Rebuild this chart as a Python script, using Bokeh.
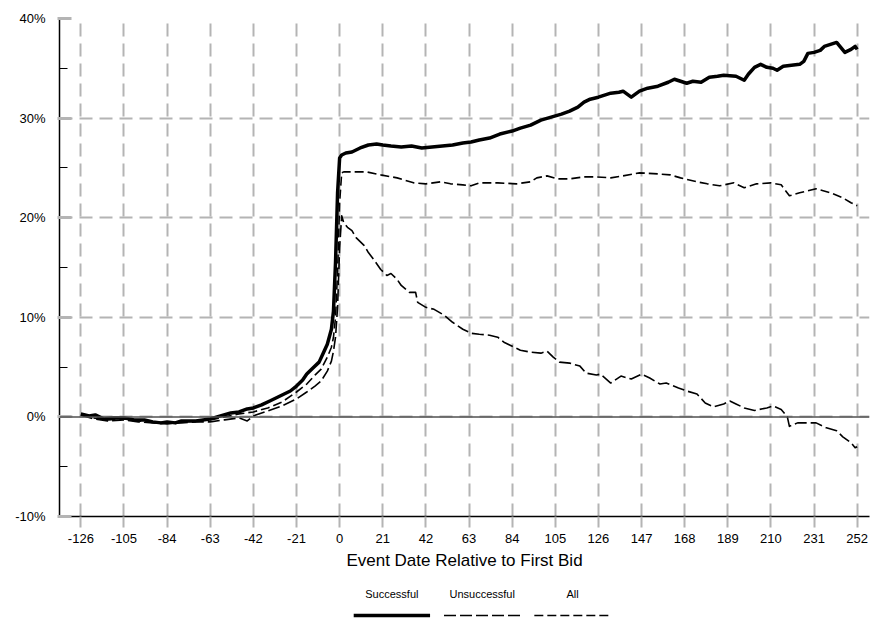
from bokeh.plotting import figure
from bokeh.models import Range1d, FixedTicker, PrintfTickFormatter, Span
from bokeh.layouts import column
from bokeh.embed import file_html
from bokeh.resources import INLINE
from bokeh.core.properties import value

# ---------------- data (cumulative abnormal return, %) ----------------
succ_days = [-126, -122, -119, -115, -110, -105, -100, -95, -91, -87, -84, -80, -77, -70, -63,
             -58, -53, -49, -45, -42, -38, -34, -30, -27, -24, -21, -18, -16, -13, -10,
             -8, -6, -4, -3, -2, -1, 0, 1, 3, 6, 10, 14, 18, 21, 25, 30, 35, 40, 45, 50,
             55, 60, 64, 68, 73, 78, 84, 88, 93, 98, 103, 108, 112, 116, 119, 122, 126, 132,
             136, 138, 142, 146, 150, 155, 160, 163, 166, 169, 172, 176, 180, 184, 187, 193,
             197, 199, 202, 205, 208, 211, 213, 216, 220, 224, 226, 228, 231, 234, 236, 239,
             242, 244, 246, 249, 251, 252]
succ_vals = [0.3, 0.1, 0.2, -0.2, -0.1, -0.1, -0.3, -0.3, -0.5, -0.6, -0.5, -0.6, -0.4, -0.4, -0.2,
             0.1, 0.4, 0.5, 0.8, 0.9, 1.2, 1.6, 2.0, 2.3, 2.6, 3.1, 3.7, 4.3, 4.9, 5.5,
             6.4, 7.3, 8.8, 10.6, 15.5, 22.5, 26.0, 26.3, 26.5, 26.6, 27.0, 27.3, 27.4, 27.3, 27.2, 27.1, 27.2, 27.0, 27.1, 27.2,
             27.3, 27.5, 27.6, 27.8, 28.0, 28.4, 28.7, 29.0, 29.3, 29.8, 30.1, 30.4, 30.7, 31.1, 31.6, 31.9, 32.1, 32.5,
             32.6, 32.7, 32.1, 32.7, 33.0, 33.2, 33.6, 33.9, 33.7, 33.5, 33.7, 33.6, 34.1, 34.2, 34.3, 34.2,
             33.8, 34.4, 35.1, 35.4, 35.1, 35.0, 34.8, 35.2, 35.3, 35.4, 35.7, 36.5, 36.6, 36.8, 37.2, 37.4,
             37.6, 37.1, 36.6, 36.9, 37.2, 36.9]

uns_days = [-126, -120, -113, -105, -98, -91, -84, -77, -70, -63, -56, -49, -45, -42, -35,
            -28, -21, -16, -12, -9, -6, -4, -3, -2, -1, 0, 1, 2, 4, 6,
            8, 12, 14, 17, 20, 23, 25, 28, 30, 34, 37, 38, 42, 46, 51,
            55, 60, 64, 68, 73, 77, 80, 83, 88, 93, 98, 101, 104, 107, 112,
            117, 120, 125, 127, 132, 137, 142, 147, 151, 156, 159, 165, 169, 174, 178,
            182, 187, 190, 193, 197, 202, 208, 211, 215, 218, 219, 223, 228, 232, 237,
            242, 245, 249, 251, 252]
uns_vals = [0.2, -0.2, -0.4, -0.3, -0.5, -0.6, -0.7, -0.6, -0.5, -0.5, -0.3, -0.1, -0.4, 0.1, 0.6,
            1.1, 1.8, 2.5, 3.1, 3.6, 4.6, 5.6, 6.6, 8.0, 11.0, 17.0, 20.2, 19.5, 19.0, 18.7,
            18.0, 17.2, 16.5, 15.7, 14.8, 14.2, 14.4, 13.8, 13.2, 12.5, 12.5, 11.5, 11.0, 10.8, 10.2,
            9.5, 8.8, 8.4, 8.3, 8.2, 8.0, 7.5, 7.2, 6.7, 6.5, 6.4, 6.6, 6.0, 5.5, 5.4,
            5.1, 4.4, 4.2, 4.3, 3.4, 4.1, 3.8, 4.3, 3.9, 3.3, 3.4, 2.9, 2.6, 2.3, 1.4,
            1.0, 1.3, 1.6, 1.3, 0.9, 0.65, 0.9, 1.1, 0.75, 0.0, -0.95, -0.6, -0.6, -0.6, -1.1,
            -1.4, -2.0, -2.6, -3.1, -3.0]

all_days = [-126, -120, -113, -105, -98, -91, -84, -77, -70, -63, -56, -49, -42, -35, -28,
            -21, -16, -12, -9, -6, -4, -3, -2, -1, 0, 1, 2, 7, 13, 20,
            28, 36, 42, 49, 54, 60, 64, 68, 77, 86, 93, 96, 101, 106, 112,
            119, 125, 132, 138, 146, 155, 161, 166, 174, 179, 185, 192, 197, 203, 210,
            215, 219, 224, 232, 239, 245, 249, 252]
all_vals = [0.2, -0.1, -0.3, -0.2, -0.4, -0.5, -0.6, -0.5, -0.4, -0.3, 0.0, 0.3, 0.5, 0.9, 1.5,
            2.5, 3.3, 4.2, 4.8, 6.0, 7.0, 8.0, 10.0, 14.5, 21.5, 24.5, 24.6, 24.6, 24.6, 24.3,
            24.0, 23.5, 23.4, 23.6, 23.4, 23.3, 23.2, 23.5, 23.5, 23.4, 23.6, 24.0, 24.2, 23.9, 23.9,
            24.1, 24.1, 24.0, 24.2, 24.5, 24.4, 24.3, 24.0, 23.6, 23.4, 23.2, 23.5, 23.0, 23.4, 23.5,
            23.3, 22.2, 22.5, 22.9, 22.5, 22.0, 21.5, 21.2]

x_ticks = [-126, -105, -84, -63, -42, -21, 0, 21, 42, 63, 84, 105, 126, 147, 168, 189, 210, 231, 252]
y_ticks = [-10, 0, 10, 20, 30, 40]
y_minor = [-5, 5, 15, 25, 35]

series_names = ["Successful", "Unsuccessful", "All"]
series_style = {
    "Successful": dict(line_width=3.5, line_dash="solid"),
    "Unsuccessful": dict(line_width=1.6, line_dash="12 4"),
    "All": dict(line_width=1.6, line_dash="9 4"),
}
series_data = {
    "Successful": (succ_days, succ_vals),
    "Unsuccessful": (uns_days, uns_vals),
    "All": (all_days, all_vals),
}

FONT = "Liberation Sans"
GRID = "#b4b4b4"

# ---------------- main chart ----------------
p = figure(width=870, height=572, output_backend="svg", toolbar_location=None,
           x_range=Range1d(-136.4, 258.0), y_range=Range1d(-10, 40),
           min_border_left=59, min_border_right=1, min_border_top=18, min_border_bottom=56)
p.outline_line_color = None
p.background_fill_color = "white"

for g in (p.xgrid[0], p.ygrid[0]):
    g.grid_line_color = GRID
    g.grid_line_width = 2
    g.grid_line_dash = "13 7"

p.xaxis.ticker = FixedTicker(ticks=x_ticks)
p.yaxis.ticker = FixedTicker(ticks=y_ticks, minor_ticks=y_minor)
p.xgrid.ticker = FixedTicker(ticks=x_ticks)
p.ygrid.ticker = FixedTicker(ticks=y_ticks)
p.xaxis.formatter = PrintfTickFormatter(format="%d")
p.yaxis.formatter = PrintfTickFormatter(format="%d%%")

for ax in (p.xaxis[0], p.yaxis[0]):
    ax.axis_line_color = "black"
    ax.axis_line_width = 1.5
    ax.major_label_text_font = FONT
    ax.major_label_text_font_size = "13px"
    ax.major_label_text_color = "black"

p.xaxis.major_tick_line_color = GRID
p.xaxis.major_tick_line_width = 2
p.xaxis.major_tick_out = 11
p.xaxis.major_tick_in = 0
p.xaxis.minor_tick_line_color = None
p.xaxis.major_label_standoff = 6
p.xaxis.axis_label = "Event Date Relative to First Bid"
p.xaxis.axis_label_text_font = FONT
p.xaxis.axis_label_text_font_size = "17px"
p.xaxis.axis_label_text_font_style = "normal"
p.xaxis.axis_label_text_color = "black"
p.xaxis.axis_label_standoff = 5

p.yaxis.major_tick_line_color = GRID
p.yaxis.major_tick_line_width = 3
p.yaxis.major_tick_in = 12
p.yaxis.major_tick_out = 2
p.yaxis.minor_tick_line_color = "black"
p.yaxis.minor_tick_line_width = 1
p.yaxis.minor_tick_in = 8
p.yaxis.minor_tick_out = 0
p.yaxis.major_label_standoff = 12

p.add_layout(Span(location=0, dimension="width", line_color="#505050", line_width=1.5))

for name in ["Unsuccessful", "All", "Successful"]:
    xs, ys = series_data[name]
    p.line(xs, ys, line_color="black", line_join="round", **series_style[name])

# ---------------- legend strip (text above line sample) ----------------
lw, lh = 870, 46
leg = figure(width=lw, height=lh, output_backend="svg", toolbar_location=None,
             x_range=Range1d(0, lw), y_range=Range1d(lh, 0),
             min_border=0, min_border_left=0, min_border_right=0, min_border_top=0, min_border_bottom=0)
leg.axis.visible = False
leg.grid.visible = False
leg.outline_line_color = None

center = 454
step = 97
half = 41
for i, name in enumerate(series_names):
    c = center + (i - 1) * step
    leg.text(x=[c], y=[21], text=[name], text_align="center", text_baseline="middle",
             text_font=value(FONT), text_font_size="11px", text_color="black")
    leg.segment(x0=[c - half], y0=[lh - 3], x1=[c + half], y1=[lh - 3], line_color="black",
                **series_style[name])

layout = column(p, leg, spacing=0)
open("out.html", "w").write(file_html(layout, INLINE))
